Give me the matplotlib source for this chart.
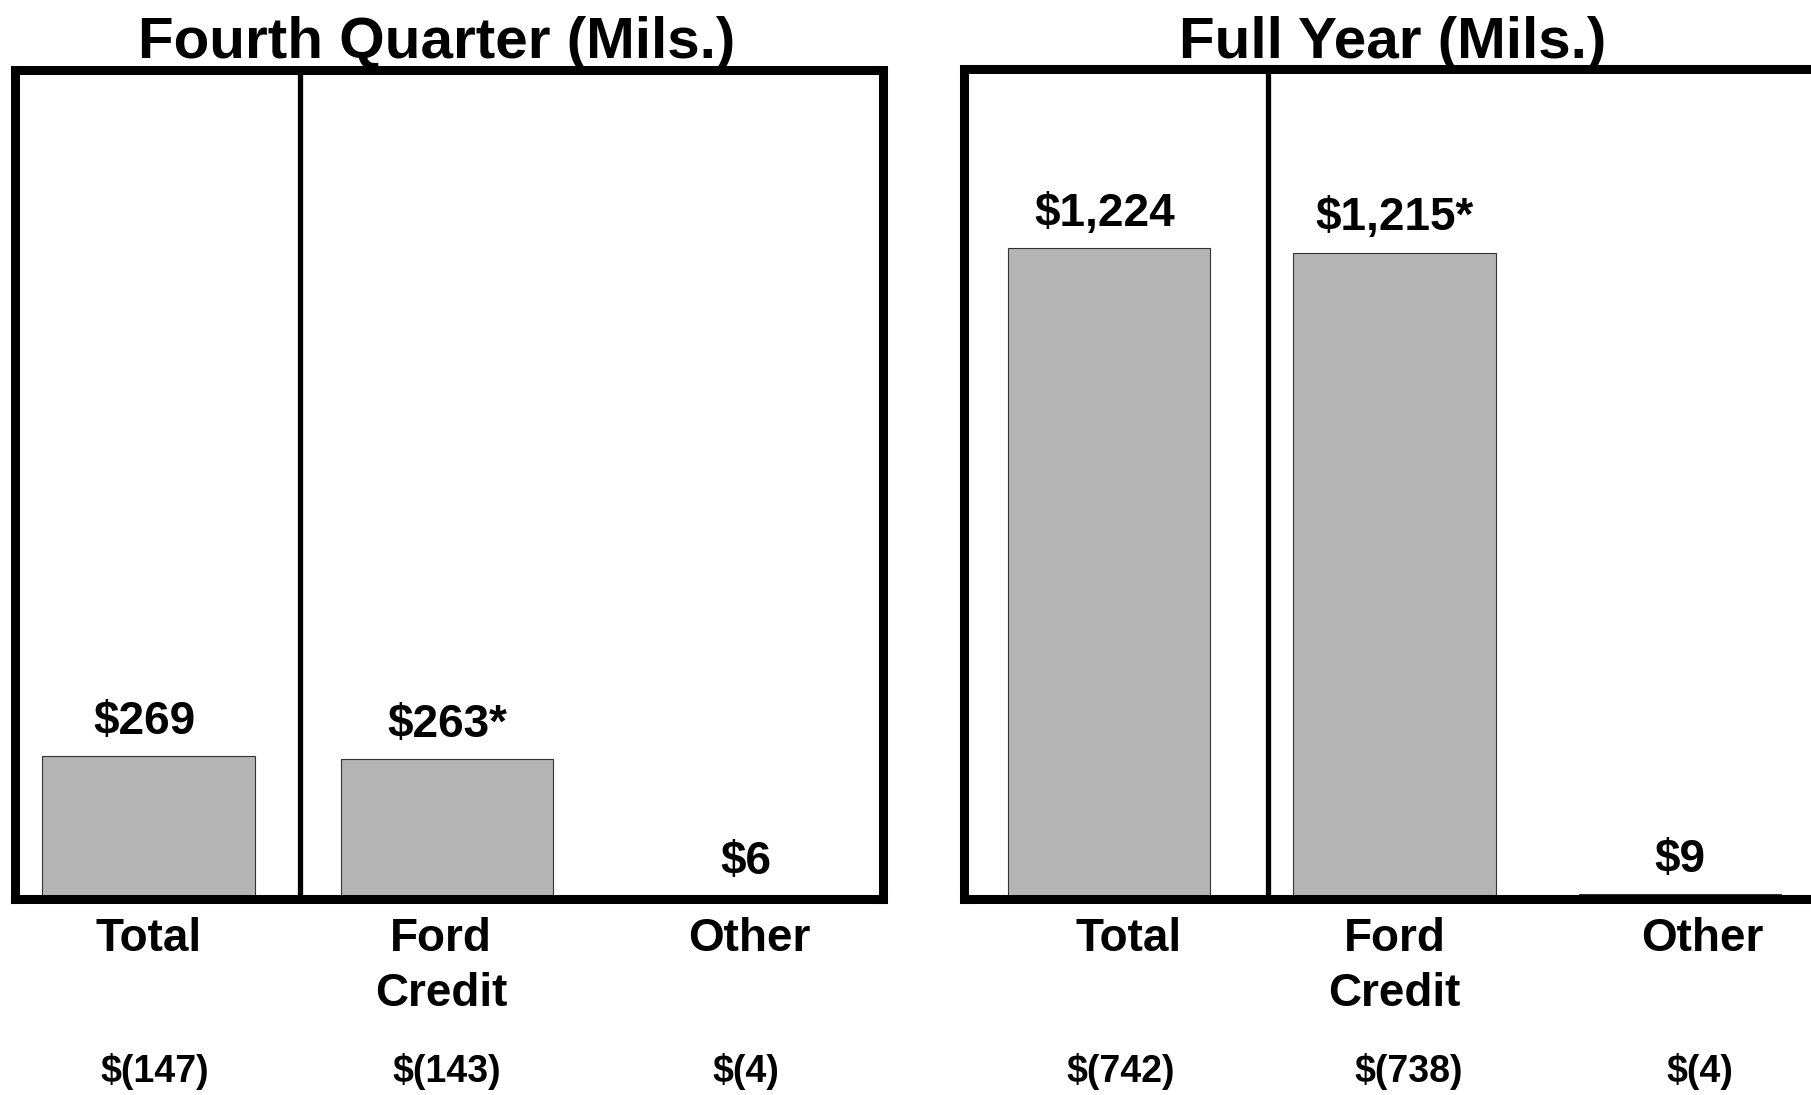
import matplotlib
matplotlib.use("Agg")
import matplotlib.pyplot as plt

plt.rcParams['font.family'] = ['Liberation Sans', 'DejaVu Sans']
plt.rcParams['font.weight'] = 'bold'

# data
categories = ['Total', 'Ford\nCredit', 'Other']
q4_values = [269, 263, 6]
q4_labels = ['$269', '$263*', '$6']
q4_prior = ['$(147)', '$(143)', '$(4)']
fy_values = [1224, 1215, 9]
fy_labels = ['$1,224', '$1,215*', '$9']
fy_prior = ['$(742)', '$(738)', '$(4)']

W, H = 1811, 1095
fig = plt.figure(figsize=(W / 100, H / 100), dpi=100)


def px_axes(x0, x1, y_top, y_bot):
    return fig.add_axes([x0 / W, (H - y_bot) / H, (x1 - x0) / W, (y_bot - y_top) / H])


def draw_panel(ax, values, labels, prior, xlim, divider, cat_dx, prior_dx, val_dx):
    x = range(len(values))
    ax.bar(x, values, width=0.71, color='#b4b4b4', edgecolor='#333333',
           linewidth=0.8, zorder=1)
    ax.set_xlim(*xlim)
    ax.set_ylim(0, 1560)
    ax.axvline(divider, color='black', linewidth=3.8, zorder=3)
    for s in ax.spines.values():
        s.set_linewidth(6.5)
        s.set_zorder(4)
    ax.set_xticks([])
    ax.set_yticks([])
    for i, v in enumerate(values):
        ax.annotate(labels[i], xy=(i + val_dx[i], v), xytext=(0, 16),
                    textcoords='offset points', ha='center', va='baseline',
                    fontsize=33, fontweight='bold')
        # category names, one line at a time so the first baseline lines up
        for k, line in enumerate(categories[i].split('\n')):
            ax.annotate(line, xy=(i + cat_dx[i], 0),
                        xycoords=('data', 'axes fraction'),
                        xytext=(0, -37.5 - 39.6 * k),
                        textcoords='offset points', ha='center', va='baseline',
                        fontsize=33, fontweight='bold', annotation_clip=False)
        ax.annotate(prior[i], xy=(i + prior_dx[i], 0),
                    xycoords=('data', 'axes fraction'), xytext=(0, -132),
                    textcoords='offset points', ha='center', va='baseline',
                    fontsize=27, fontweight='bold', annotation_clip=False)


ax1 = px_axes(15, 883, 70, 899)
draw_panel(ax1, q4_values, q4_labels, q4_prior, (-0.447, 2.459), 0.507,
           [0.0, -0.02, 0.013], [0.022, 0.0, 0.0], [-0.012, 0.0, 0.0])

ax2 = px_axes(964, 1825, 69, 899)
draw_panel(ax2, fy_values, fy_labels, fy_prior, (-0.508, 2.508), 0.557,
           [0.067, 0.0, 0.077], [0.04, 0.05, 0.07], [-0.014, 0.0, 0.0])

fig.text(437 / W, (H - 58) / H, 'Fourth Quarter (Mils.)', ha='center',
         va='baseline', fontsize=42, fontweight='bold')
fig.text(1393 / W, (H - 58) / H, 'Full Year (Mils.)', ha='center',
         va='baseline', fontsize=42, fontweight='bold')

fig.savefig('out.png', dpi=100)
